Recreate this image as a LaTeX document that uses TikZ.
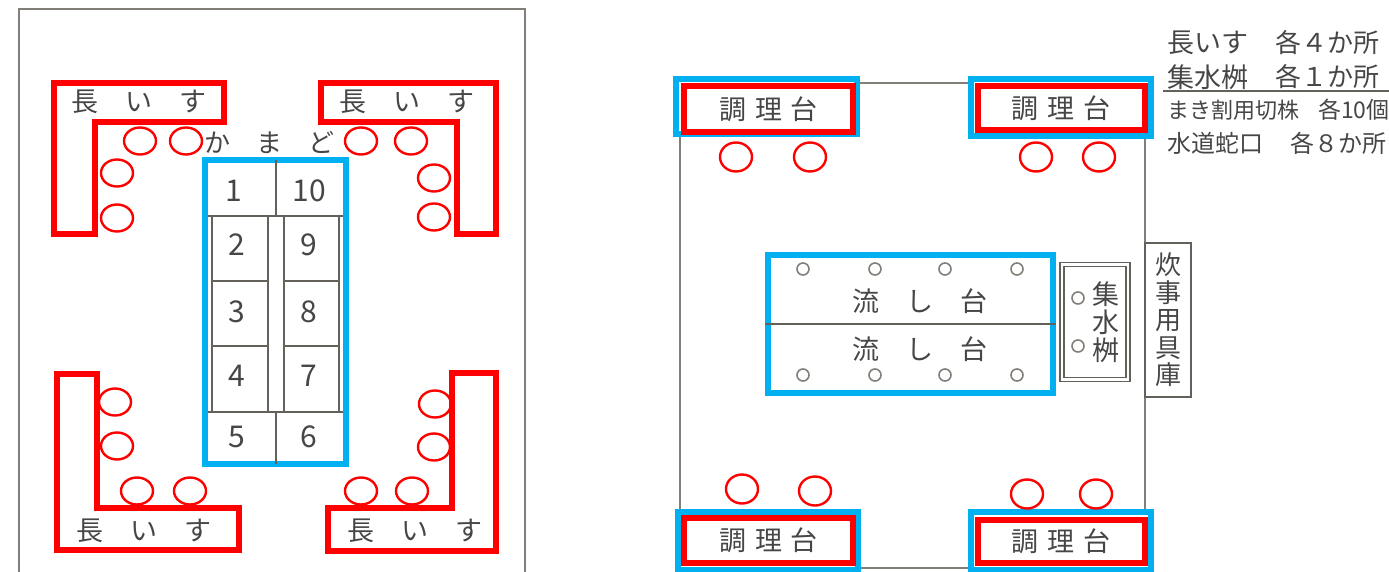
\documentclass[tikz,border=0pt]{standalone}
\usepackage{fontspec}
\setmainfont{Noto Sans CJK JP}
\usetikzlibrary{shapes.geometric}
\definecolor{benchred}{RGB}{255,0,0}
\definecolor{tableblue}{RGB}{0,176,240}
\definecolor{framegray}{RGB}{130,126,120}
\definecolor{cellgray}{RGB}{100,96,90}
\definecolor{textgray}{RGB}{70,70,70}
\begin{document}
\begin{tikzpicture}[x=1pt,y=-1pt,
    frameline/.style={draw=framegray,line width=2pt},
    cellline/.style={draw=cellgray,line width=1.5pt},
    bench/.style={draw=benchred,line width=6pt,miter limit=10},
    blue box/.style={draw=tableblue,line width=6pt,fill=white,inner sep=0pt},
    red box/.style={draw=benchred,line width=6pt,fill=white,inner sep=0pt,text=textgray,font=\fontsize{27}{30}\selectfont},
    label/.style={inner sep=0pt,text=textgray,font=\fontsize{27}{30}\selectfont},
    digit/.style={inner sep=0pt,text=textgray,font=\fontsize{30}{32}\selectfont},
    stool/.style={draw=benchred,line width=2.4pt,ellipse,inner sep=0pt,minimum width=32pt,minimum height=27pt},
    tall stool/.style={draw=benchred,line width=2.4pt,ellipse,inner sep=0pt,minimum width=32pt,minimum height=29pt},
    tap/.style={draw=framegray,line width=1.6pt,circle,inner sep=0pt,minimum size=12pt}]
    \useasboundingbox (0,0) rectangle (1389,572);

    % left plan
    \draw[frameline] (19,572) -- (19,9) -- (525,9) -- (525,572);

    \draw[bench] (54,83) -- (224,83) -- (224,122) -- (95,122) -- (95,234) -- (54,234) -- cycle;
    \draw[bench] (321,83) -- (496,83) -- (496,234) -- (457,234) -- (457,122) -- (321,122) -- cycle;
    \draw[bench] (57,374) -- (97,374) -- (97,508) -- (239,508) -- (239,550) -- (57,550) -- cycle;
    \draw[bench] (496,373) -- (452,373) -- (452,508) -- (328,508) -- (328,551) -- (496,551) -- cycle;

    \node(chair1) at (139,102) [label]{長　い　す};
    \node(chair2) at (407,102) [label]{長　い　す};
    \node(chair3) at (144,531) [label]{長　い　す};
    \node(chair4) at (415,531) [label]{長　い　す};
    \node(kamado) at (269,143) [label,font=\fontsize{26}{30}\selectfont]{か　ま　ど};

    \node(s1) at (140,141) [stool]{};
    \node(s2) at (186,141) [stool]{};
    \node(s3) at (117,173) [stool]{};
    \node(s4) at (117,218) [stool]{};
    \node(s5) at (361,141) [stool]{};
    \node(s6) at (411,141) [stool]{};
    \node(s7) at (434,178) [stool]{};
    \node(s8) at (434,217) [stool]{};
    \node(s9) at (115,402) [stool]{};
    \node(s10) at (117,446) [stool]{};
    \node(s11) at (137,491) [stool]{};
    \node(s12) at (190,491) [stool]{};
    \node(s13) at (435,404) [stool]{};
    \node(s14) at (434,447) [stool]{};
    \node(s15) at (361,491) [stool]{};
    \node(s16) at (412,491) [stool]{};

    \node(hearth) at (275.5,312) [draw=tableblue,line width=6pt,inner sep=0pt,minimum width=141pt,minimum height=304pt]{};
    \draw[cellline] (276,160) -- (276,216);
    \draw[cellline] (276,412) -- (276,464);
    \draw[cellline] (208,216) -- (343,216);
    \draw[cellline] (208,412) -- (343,412);
    \draw[cellline] (212,216) -- (212,412);
    \draw[cellline] (268,216) -- (268,412);
    \draw[cellline] (284,216) -- (284,412);
    \draw[cellline] (339,216) -- (339,412);
    \draw[cellline] (212,281) -- (268,281);
    \draw[cellline] (284,281) -- (339,281);
    \draw[cellline] (212,346) -- (268,346);
    \draw[cellline] (284,346) -- (339,346);

    \node(n1) at (234,191) [digit]{1};
    \node(n2) at (237,245) [digit]{2};
    \node(n3) at (237,312) [digit]{3};
    \node(n4) at (237,376) [digit]{4};
    \node(n5) at (237,437) [digit]{5};
    \node(n6) at (309,437) [digit]{6};
    \node(n7) at (309,376) [digit]{7};
    \node(n8) at (309,312) [digit]{8};
    \node(n9) at (309,245) [digit]{9};
    \node(n10) at (309,191) [digit]{10};

    % right plan
    \draw[frameline] (680,83) rectangle (1145,568);

    \node(store) at (1168,320) [draw=cellgray,line width=1.5pt,fill=white,inner sep=0pt,minimum width=46pt,minimum height=154pt,align=center,text=textgray,font=\fontsize{26}{27.5}\selectfont]{炊\\事\\用\\具\\庫};

    \node(blue1) at (766,107) [blue box,minimum width=181pt,minimum height=55pt]{};
    \node(blue2) at (1061,108) [blue box,minimum width=180pt,minimum height=57pt]{};
    \node(blue3) at (768,541) [blue box,minimum width=180pt,minimum height=58pt]{};
    \node(blue4) at (1061,541) [blue box,minimum width=180pt,minimum height=58pt]{};

    \node(cook1) at (768.5,109) [red box,minimum width=169pt,minimum height=46pt]{調\hspace{9pt}理\hspace{9pt}台};
    \node(cook2) at (1061,108) [red box,minimum width=167pt,minimum height=44pt]{調\hspace{9pt}理\hspace{9pt}台};
    \node(cook3) at (768.5,540.5) [red box,minimum width=169pt,minimum height=45pt]{調\hspace{9pt}理\hspace{9pt}台};
    \node(cook4) at (1061,541) [red box,minimum width=167pt,minimum height=43pt]{調\hspace{9pt}理\hspace{9pt}台};

    \node(t1) at (736,157) [tall stool]{};
    \node(t2) at (810,157) [tall stool]{};
    \node(t3) at (1036,157) [tall stool]{};
    \node(t4) at (1099,157) [tall stool]{};
    \node(t5) at (742,489) [tall stool]{};
    \node(t6) at (815,491) [tall stool]{};
    \node(t7) at (1027,494) [tall stool]{};
    \node(t8) at (1096,494) [tall stool]{};

    \node(sink) at (910.5,324) [draw=tableblue,line width=6pt,inner sep=0pt,minimum width=285pt,minimum height=138pt]{};
    \draw[cellline] (sink.west) -- (sink.east);
    \node(sink1) at (920,301) [label]{流　し　台};
    \node(sink2) at (920,349) [label]{流　し　台};

    \node(tap1) at (803,269) [tap]{};
    \node(tap2) at (875,269) [tap]{};
    \node(tap3) at (945,269) [tap]{};
    \node(tap4) at (1017,269) [tap]{};
    \node(tap5) at (803,375) [tap]{};
    \node(tap6) at (875,375) [tap]{};
    \node(tap7) at (945,375) [tap]{};
    \node(tap8) at (1017,375) [tap]{};

    \node(basin) at (1095,322) [draw=cellgray,line width=1.5pt,double=white,double distance=2.6pt,inner sep=0pt,minimum width=66pt,minimum height=115pt]{};
    \node(basintext) at (1106,322) [label,align=center,font=\fontsize{27}{28}\selectfont]{集\\水\\桝};
    \node(tap9) at (1078,298) [tap]{};
    \node(tap10) at (1078,346) [tap]{};

    % list at top right
    \node(list1a) at (1167,43) [label,anchor=west]{長いす};
    \node(list1b) at (1275,43) [label,anchor=west,font=\fontsize{26}{30}\selectfont]{各４か所};
    \node(list2a) at (1167,77) [label,anchor=west]{集水桝};
    \node(list2b) at (1275,77) [label,anchor=west,font=\fontsize{26}{30}\selectfont]{各１か所};
    \draw[cellline] (1163,91) -- (1389,91);
    \node(list3a) at (1167,110) [label,anchor=west,font=\fontsize{22}{26}\selectfont]{まき割用切株};
    \node(list3b) at (1318,110) [label,anchor=west,font=\fontsize{23}{26}\selectfont]{各10個};
    \node(list4a) at (1167,143) [label,anchor=west,font=\fontsize{24}{26}\selectfont]{水道蛇口};
    \node(list4b) at (1290,143) [label,anchor=west,font=\fontsize{24}{26}\selectfont]{各８か所};
\end{tikzpicture}
\end{document}
